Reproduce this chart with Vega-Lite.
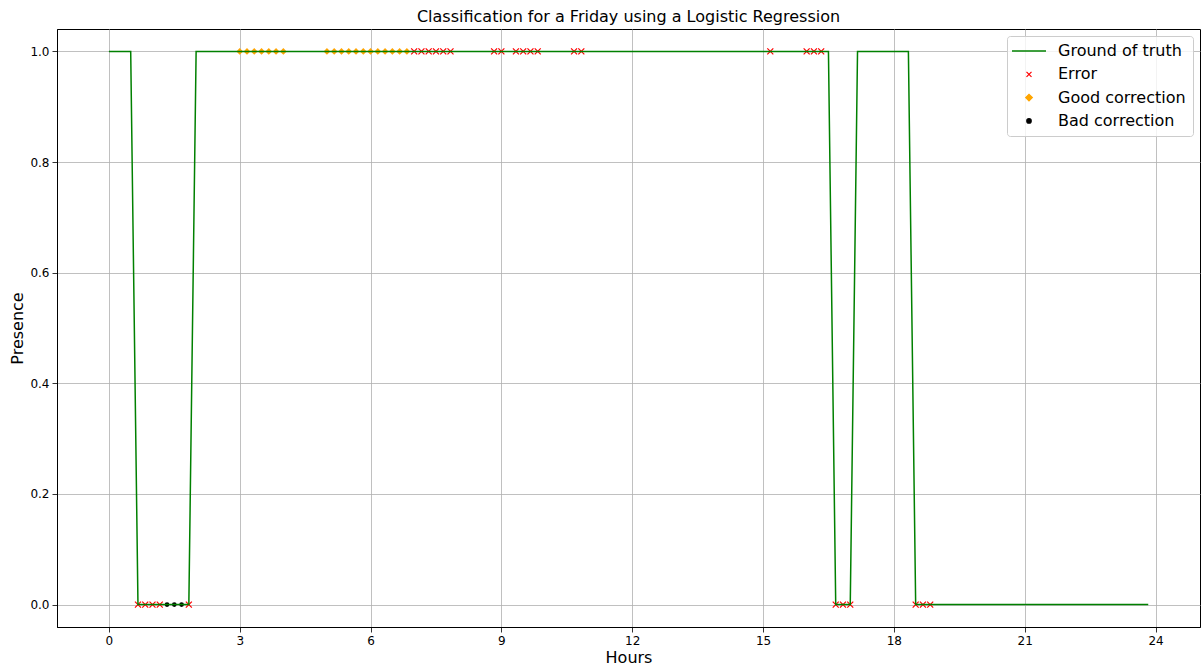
{
  "$schema": "https://vega.github.io/schema/vega-lite/v6.json",
  "width": 1143,
  "height": 598,
  "autosize": {"type": "none"},
  "padding": {"left": 57, "top": 29, "right": 3, "bottom": 43},
  "background": "white",
  "title": {"text": "Classification for a Friday using a Logistic Regression", "fontSize": 16, "font": "DejaVu Sans", "fontWeight": "normal", "color": "black", "anchor": "middle", "offset": 4},
  "config": {
    "view": {"stroke": "black", "strokeWidth": 1},
    "axis": {"grid": true, "gridColor": "#b0b0b0", "gridWidth": 0.8, "domainColor": "black", "domainWidth": 1, "tickColor": "black", "tickSize": 5, "tickWidth": 0.8, "labelFont": "DejaVu Sans", "labelFontSize": 12, "labelColor": "black", "labelPadding": 3, "titleFont": "DejaVu Sans", "titleFontSize": 16, "titleFontWeight": "normal", "titleColor": "black"},
    "legend": {"orient": "top-right", "offset": 7, "labelFont": "DejaVu Sans", "labelFontSize": 16, "labelColor": "black", "strokeColor": "#cccccc", "fillColor": "rgba(255,255,255,0.8)", "padding": 7, "cornerRadius": 3, "rowPadding": 7.3, "symbolSize": 36, "labelOffset": 28}
  },
  "data": {"values": [
    {"hour": 0, "presence": 1, "series": "Ground of truth"},
    {"hour": 0.5, "presence": 1, "series": "Ground of truth"},
    {"hour": 0.6667, "presence": 0, "series": "Ground of truth"},
    {"hour": 1.8333, "presence": 0, "series": "Ground of truth"},
    {"hour": 2.0, "presence": 1, "series": "Ground of truth"},
    {"hour": 16.5, "presence": 1, "series": "Ground of truth"},
    {"hour": 16.6667, "presence": 0, "series": "Ground of truth"},
    {"hour": 17.0, "presence": 0, "series": "Ground of truth"},
    {"hour": 17.1667, "presence": 1, "series": "Ground of truth"},
    {"hour": 18.3333, "presence": 1, "series": "Ground of truth"},
    {"hour": 18.5, "presence": 0, "series": "Ground of truth"},
    {"hour": 23.8333, "presence": 0, "series": "Ground of truth"},
    {"hour": 0.6667, "presence": 0, "series": "Error"},
    {"hour": 0.8333, "presence": 0, "series": "Error"},
    {"hour": 1.0, "presence": 0, "series": "Error"},
    {"hour": 1.1667, "presence": 0, "series": "Error"},
    {"hour": 1.8333, "presence": 0, "series": "Error"},
    {"hour": 7.0, "presence": 1, "series": "Error"},
    {"hour": 7.1667, "presence": 1, "series": "Error"},
    {"hour": 7.3333, "presence": 1, "series": "Error"},
    {"hour": 7.5, "presence": 1, "series": "Error"},
    {"hour": 7.6667, "presence": 1, "series": "Error"},
    {"hour": 7.8333, "presence": 1, "series": "Error"},
    {"hour": 8.8333, "presence": 1, "series": "Error"},
    {"hour": 9.0, "presence": 1, "series": "Error"},
    {"hour": 9.3333, "presence": 1, "series": "Error"},
    {"hour": 9.5, "presence": 1, "series": "Error"},
    {"hour": 9.6667, "presence": 1, "series": "Error"},
    {"hour": 9.8333, "presence": 1, "series": "Error"},
    {"hour": 10.6667, "presence": 1, "series": "Error"},
    {"hour": 10.8333, "presence": 1, "series": "Error"},
    {"hour": 15.1667, "presence": 1, "series": "Error"},
    {"hour": 16.0, "presence": 1, "series": "Error"},
    {"hour": 16.1667, "presence": 1, "series": "Error"},
    {"hour": 16.3333, "presence": 1, "series": "Error"},
    {"hour": 16.6667, "presence": 0, "series": "Error"},
    {"hour": 16.8333, "presence": 0, "series": "Error"},
    {"hour": 17.0, "presence": 0, "series": "Error"},
    {"hour": 18.5, "presence": 0, "series": "Error"},
    {"hour": 18.6667, "presence": 0, "series": "Error"},
    {"hour": 18.8333, "presence": 0, "series": "Error"},
    {"hour": 3.0, "presence": 1, "series": "Good correction"},
    {"hour": 3.1667, "presence": 1, "series": "Good correction"},
    {"hour": 3.3333, "presence": 1, "series": "Good correction"},
    {"hour": 3.5, "presence": 1, "series": "Good correction"},
    {"hour": 3.6667, "presence": 1, "series": "Good correction"},
    {"hour": 3.8333, "presence": 1, "series": "Good correction"},
    {"hour": 4.0, "presence": 1, "series": "Good correction"},
    {"hour": 5.0, "presence": 1, "series": "Good correction"},
    {"hour": 5.1667, "presence": 1, "series": "Good correction"},
    {"hour": 5.3333, "presence": 1, "series": "Good correction"},
    {"hour": 5.5, "presence": 1, "series": "Good correction"},
    {"hour": 5.6667, "presence": 1, "series": "Good correction"},
    {"hour": 5.8333, "presence": 1, "series": "Good correction"},
    {"hour": 6.0, "presence": 1, "series": "Good correction"},
    {"hour": 6.1667, "presence": 1, "series": "Good correction"},
    {"hour": 6.3333, "presence": 1, "series": "Good correction"},
    {"hour": 6.5, "presence": 1, "series": "Good correction"},
    {"hour": 6.6667, "presence": 1, "series": "Good correction"},
    {"hour": 6.8333, "presence": 1, "series": "Good correction"},
    {"hour": 1.3333, "presence": 0, "series": "Bad correction"},
    {"hour": 1.5, "presence": 0, "series": "Bad correction"},
    {"hour": 1.6667, "presence": 0, "series": "Bad correction"}
  ]},
  "encoding": {
    "x": {"field": "hour", "type": "quantitative", "scale": {"domain": [-1.19, 25.02], "nice": false, "zero": false}, "axis": {"title": "Hours", "values": [0, 3, 6, 9, 12, 15, 18, 21, 24], "titlePadding": 3}},
    "y": {"field": "presence", "type": "quantitative", "scale": {"domain": [-0.0405, 1.0405], "nice": false, "zero": false}, "axis": {"title": "Presence", "values": [0, 0.2, 0.4, 0.6, 0.8, 1.0], "format": ".1f", "titlePadding": 4}},
    "color": {"field": "series", "type": "nominal", "scale": {"domain": ["Ground of truth", "Error", "Good correction", "Bad correction"], "range": ["#008000", "#ff0000", "#ffa500", "#000000"]}, "legend": {"title": null, "encode": {"symbols": {"update": {
      "x": {"value": 15},
      "shape": {"signal": "datum.value === 'Ground of truth' ? 'stroke' : datum.value === 'Error' ? 'M-1,-1L1,1M1,-1L-1,1' : datum.value === 'Good correction' ? 'diamond' : 'circle'"},
      "size": {"signal": "datum.value === 'Ground of truth' ? 1156 : datum.value === 'Good correction' ? 45 : datum.value === 'Error' ? 25 : 20"},
      "fill": {"signal": "datum.value === 'Good correction' ? '#ffa500' : datum.value === 'Bad correction' ? '#000000' : 'transparent'"},
      "stroke": {"signal": "datum.value === 'Ground of truth' ? '#008000' : datum.value === 'Error' ? '#ff0000' : 'transparent'"},
      "strokeWidth": {"signal": "datum.value === 'Ground of truth' ? 1.5 : 1.2"},
      "opacity": {"value": 1}
    }}}}}
  },
  "layer": [
    {"transform": [{"filter": "datum.series === 'Error'"}], "mark": {"type": "point", "filled": false, "shape": "M-1,-1L1,1M1,-1L-1,1", "size": 36, "strokeWidth": 1.2, "opacity": 1}},
    {"transform": [{"filter": "datum.series === 'Good correction'"}], "mark": {"type": "point", "filled": true, "shape": "diamond", "size": 45, "opacity": 1}},
    {"transform": [{"filter": "datum.series === 'Bad correction'"}], "mark": {"type": "point", "filled": true, "shape": "circle", "size": 22, "opacity": 1}},
    {"transform": [{"filter": "datum.series === 'Ground of truth'"}], "mark": {"type": "line", "strokeWidth": 1.5}, "encoding": {"order": {"field": "hour", "type": "quantitative"}}}
  ]
}
